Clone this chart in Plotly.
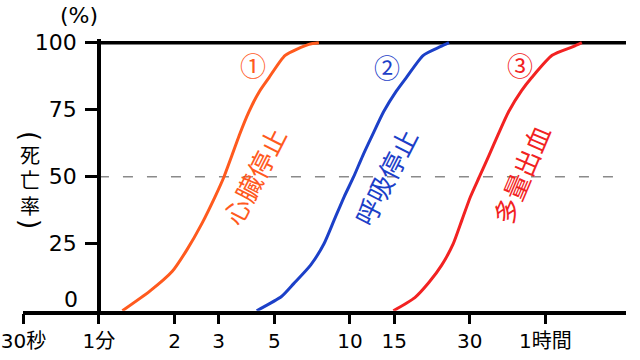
import math
import plotly.graph_objects as go

# ---------------- data ----------------
# time in minutes, death rate in %
cardiac_t = [1.24, 1.59, 1.96, 2.24, 2.57, 2.90, 3.15, 3.38, 3.62, 3.96, 4.37, 4.76, 5.52, 6.86, 7.52]
cardiac_p = [0, 7.2, 14.7, 22.7, 32.5, 42.5, 50, 57.7, 65.4, 74.3, 82.0, 87.0, 95.3, 99.4, 100]

resp_t = [4.25, 5.35, 5.97, 6.97, 7.88, 8.64, 9.48, 10.35, 11.23, 12.27, 13.63, 15.32, 16.77, 19.6, 22.9, 24.8]
resp_p = [0, 5.4, 10.1, 17.0, 25.0, 33.7, 42.5, 50, 57.7, 65.4, 74.3, 82.0, 87.0, 95.3, 98.5, 100]

bleed_t = [14.89, 18.14, 20.66, 23.2, 25.8, 27.9, 30.2, 32.8, 35.7, 38.8, 42.9, 48.2, 53.0, 63.9, 77.4, 83.9]
bleed_p = [0, 4.9, 10.6, 17.0, 25.0, 33.7, 42.5, 50, 57.7, 65.4, 74.3, 82.0, 87.0, 95.3, 98.5, 100]

x_tick_vals = [0.5, 1, 2, 3, 5, 10, 15, 30, 60]
x_tick_text = ["30秒", "1分", "2", "3", "5", "10", "15", "30", "1時間"]
y_tick_vals = [25, 50, 75, 100]
y_tick_text = ["25", "50", "75", "100"]

series_names = ["心臓停止", "呼吸停止", "多量出血"]
series_marks = ["①", "②", "③"]
series_colors = ["#FF5A1E", "#1C40C8", "#F22222"]
label_pos_t = [4.15, 13.8, 47.6]
label_pos_p = [50.3, 50.0, 51.0]
label_angle = [-63, -63, -67]
mark_pos_t = [4.12, 14.0, 47.6]
mark_pos_p = [91.7, 91.0, 91.7]

# vertical axis title, written top to bottom; brackets turned to the vertical form
y_title_chars = ["死", "亡", "率"]
y_title_px = [154, 179, 205]
y_bracket_chars = ["(", ")"]
y_bracket_px = [136, 224]

# ---------------- layout geometry ----------------
W, H = 640, 360
FONT = "DejaVu Sans, Noto Sans CJK JP, sans-serif"
CJK = "Noto Sans CJK JP, sans-serif"

px_per_decade = 251.0
x_left_px, x_right_px = 23.4, 626.0
log_lo = math.log10(0.5)
log_hi = log_lo + (x_right_px - x_left_px) / px_per_decade
x_end = 10 ** log_hi
one_min_px = x_left_px + (0 - log_lo) * px_per_decade

y_bottom_px = 310.7
px_per_pct = 2.68
y_top_val = 101.5
y_top_px = y_bottom_px - y_top_val * px_per_pct

fig = go.Figure()

# 100% line and 50% dashed line
fig.add_trace(go.Scatter(x=[1, x_end], y=[100, 100], mode="lines",
                         line=dict(color="black", width=3.5), hoverinfo="skip", showlegend=False))
fig.add_trace(go.Scatter(x=[1, x_end], y=[50, 50], mode="lines",
                         line=dict(color="#8a8a8a", width=1.4, dash="10px,14px"),
                         hoverinfo="skip", showlegend=False))

for t, p, c, n in zip([cardiac_t, resp_t, bleed_t], [cardiac_p, resp_p, bleed_p], series_colors, series_names):
    fig.add_trace(go.Scatter(x=t, y=p, mode="lines", name=n,
                             line=dict(color=c, width=3, shape="spline", smoothing=0.6),
                             showlegend=False))

annotations = []
for n, m, c, lt, lp, ang, mt, mp in zip(series_names, series_marks, series_colors,
                                       label_pos_t, label_pos_p, label_angle, mark_pos_t, mark_pos_p):
    annotations.append(dict(x=math.log10(lt), y=lp, xref="x", yref="y", text=n, showarrow=False,
                            textangle=ang, font=dict(family=CJK, size=26, color=c),
                            xanchor="center", yanchor="middle"))
    annotations.append(dict(x=math.log10(mt), y=mp, xref="x", yref="y", text=m, showarrow=False,
                            font=dict(family=CJK, size=26, color=c),
                            xanchor="center", yanchor="middle"))

# "0" label raised above the x axis
annotations.append(dict(x=80 / W, xref="paper", y=0, yref="y", yshift=11, text="0",
                        showarrow=False, xanchor="right", yanchor="middle",
                        font=dict(family=FONT, size=22, color="black")))
# (%) unit
annotations.append(dict(x=79 / W, xref="paper", y=(H - 16) / H, yref="paper", text="(%)",
                        showarrow=False, xanchor="center", yanchor="middle",
                        font=dict(family=FONT, size=22, color="black")))
# vertical y title
for ch, yp in zip(y_title_chars, y_title_px):
    annotations.append(dict(x=30 / W, xref="paper", y=(H - yp) / H, yref="paper",
                            text=ch, showarrow=False,
                            xanchor="center", yanchor="middle",
                            font=dict(family=CJK, size=20, color="black")))
for ch, yp in zip(y_bracket_chars, y_bracket_px):
    annotations.append(dict(x=30 / W, xref="paper", y=(H - yp) / H, yref="paper",
                            text=ch, showarrow=False, textangle=90,
                            xanchor="center", yanchor="middle",
                            font=dict(family="DejaVu Sans", size=26, color="black")))

fig.update_layout(
    width=W, height=H,
    margin=dict(l=0, r=0, t=0, b=0, autoexpand=False),
    paper_bgcolor="white", plot_bgcolor="white",
    showlegend=False,
    font=dict(family=FONT, size=22, color="black"),
    xaxis=dict(type="log", range=[log_lo, log_hi],
               domain=[x_left_px / W, x_right_px / W],
               tickvals=x_tick_vals, ticktext=x_tick_text,
               ticks="outside", ticklen=10, tickwidth=3, tickcolor="black",
               ticklabeloverflow="allow",
               showline=True, linewidth=3.5, linecolor="black",
               showgrid=False, zeroline=False,
               tickfont=dict(family=FONT, size=20, color="black")),
    yaxis=dict(range=[0, y_top_val],
               domain=[(H - y_bottom_px) / H, (H - y_top_px) / H],
               anchor="free", position=one_min_px / W,
               tickvals=y_tick_vals, ticktext=y_tick_text,
               ticks="outside", ticklen=12, tickwidth=3, tickcolor="black",
               ticklabelstandoff=4,
               showline=True, linewidth=3.5, linecolor="black",
               showgrid=False, zeroline=False,
               tickfont=dict(family=FONT, size=22, color="black")),
    annotations=annotations,
)

# remove the browser's default 8px body margin so the figure fills the window exactly
fig.write_html("out.html",
               config={"displayModeBar": False},
               post_script="document.body.style.margin='0';document.body.style.overflow='hidden';")
